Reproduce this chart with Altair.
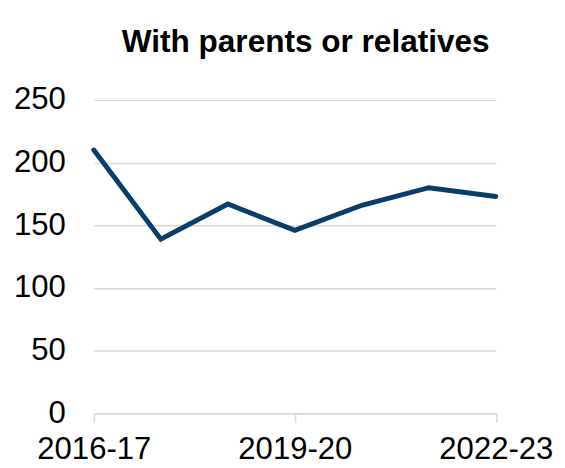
import altair as alt
import pandas as pd

years = ["2016-17", "2017-18", "2018-19", "2019-20", "2020-21", "2021-22", "2022-23"]
values = [210, 139, 167, 146, 166, 180, 173]
shown_labels = ["2016-17", "2019-20", "2022-23"]

df = pd.DataFrame({"year": years, "value": values})

FONT = "Liberation Sans"

chart = alt.Chart(df).mark_line(color="#083e6b", strokeWidth=5, strokeJoin="miter",
                                strokeCap="round").encode(
    x=alt.X("year:O", sort=years,
            scale=alt.Scale(type="point", padding=0),
            axis=alt.Axis(values=shown_labels, title=None, labelAngle=0,
                          labelFont=FONT, labelFontSize=31.5, labelColor="#000000",
                          labelPadding=12, tickSize=9, tickColor="#d9d9d9", tickWidth=1.5,
                          domainColor="#d9d9d9", domainWidth=1.5, grid=False,
                          labelBaseline="top")),
    y=alt.Y("value:Q",
            scale=alt.Scale(domain=[0, 250], nice=False),
            axis=alt.Axis(values=[0, 50, 100, 150, 200, 250], title=None,
                          labelFont=FONT, labelFontSize=31.5, labelColor="#000000",
                          ticks=False, tickSize=0, labelPadding=29, domain=False,
                          grid=True, gridColor="#d9d9d9", gridWidth=1.5)),
).properties(
    width=407.5,
    height=318,
    background="white",
    title=alt.TitleParams("With parents or relatives", font=FONT, fontSize=32,
                          fontWeight="bold", color="#000000", anchor="middle",
                          dx=11, offset=26),
    autosize=alt.AutoSizeParams(type="none"),
    padding={"left": 87, "top": 90, "right": 62, "bottom": 52},
).configure_view(strokeWidth=0, stroke="transparent")

chart.save("out.html", embed_options={"renderer": "svg", "actions": False})
